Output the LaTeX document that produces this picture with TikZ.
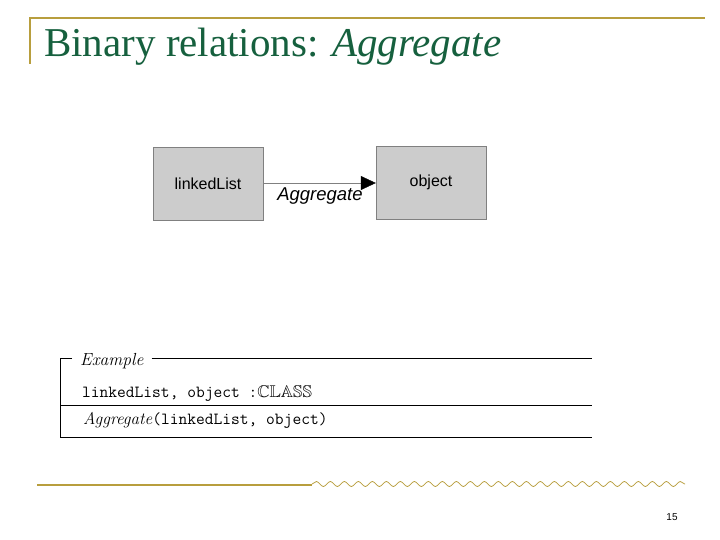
\documentclass[tikz,border=0pt]{standalone}
\usepackage{fontspec}
\usepackage{amssymb}
\setsansfont{Liberation Sans}
\newfontfamily\titlefont{Liberation Serif}
\usetikzlibrary{positioning,arrows.meta,decorations.pathmorphing}
\definecolor{gold}{RGB}{184,158,62}
\definecolor{titlegreen}{RGB}{22,96,62}
\definecolor{boxgray}{RGB}{204,204,204}
\tikzset{
  classbox/.style={draw=gray,fill=boxgray,minimum width=110pt,minimum height=73pt,font=\sffamily\fontsize{16}{18}\selectfont},
  rel/.style={draw=gray,-{Triangle[length=15pt,width=14pt,fill=black,color=black]}},
  schemaline/.style={line width=0.8pt},
  monotext/.style={anchor=base west,inner sep=0pt,font=\ttfamily\fontsize{17}{19}\selectfont}
}
\begin{document}
\begin{tikzpicture}[x=1pt,y=-1pt]
                \useasboundingbox (0,0) rectangle (720,540);
                %TITLE
                \draw[gold,line width=2pt] (30,64) -- (30,18) -- (705,18);
                \node[anchor=base west,text=titlegreen,font=\titlefont\fontsize{41}{44}\selectfont,inner sep=0pt] (title) at (44,57) {Binary relations: \textit{Aggregate}};
                
                %NODE
                \node[classbox] (L) at (208,183.5){linkedList};
                \node[classbox] (O) at (431,182.5){object};
                
                %EDGE
                \draw[rel] (L.east |- 0,183) -- (O.west |- 0,183);
                \node[font=\sffamily\itshape\fontsize{18.5}{20}\selectfont] (agg) at (320,196){Aggregate};
                
                %SCHEMA
                \node[anchor=base west,font=\itshape\fontsize{17.5}{19}\selectfont,inner sep=0pt] (ex) at (80,365){Example};
                \coordinate (tl) at (60,358);
                \coordinate (tr) at (592,358);
                \draw[schemaline] (ex.west |- tl) ++(-8,0) -- (tl) -- (60,437) -- (592,437);
                \draw[schemaline] (ex.east |- tl) ++(8,0) -- (tr);
                \draw[schemaline] (60,405) -- (592,405);
                \node[monotext] (decl) at (82,397){linkedList, object :$\mathbb{CLASS}$};
                \node[monotext] (pred) at (83,424){\textrm{\itshape Aggregate}(linkedList, object)};
                
                %FOOTER
                \draw[gold,line width=1.5pt] (37,485) -- (312,485);
                \draw[gold,line width=0.8pt,decorate,decoration={snake,amplitude=2.5pt,segment length=14pt}] (312,484) -- (685,484);
                \node[font=\sffamily\fontsize{10}{12}\selectfont] (page) at (672,517){15};
            \end{tikzpicture}
\end{document}
